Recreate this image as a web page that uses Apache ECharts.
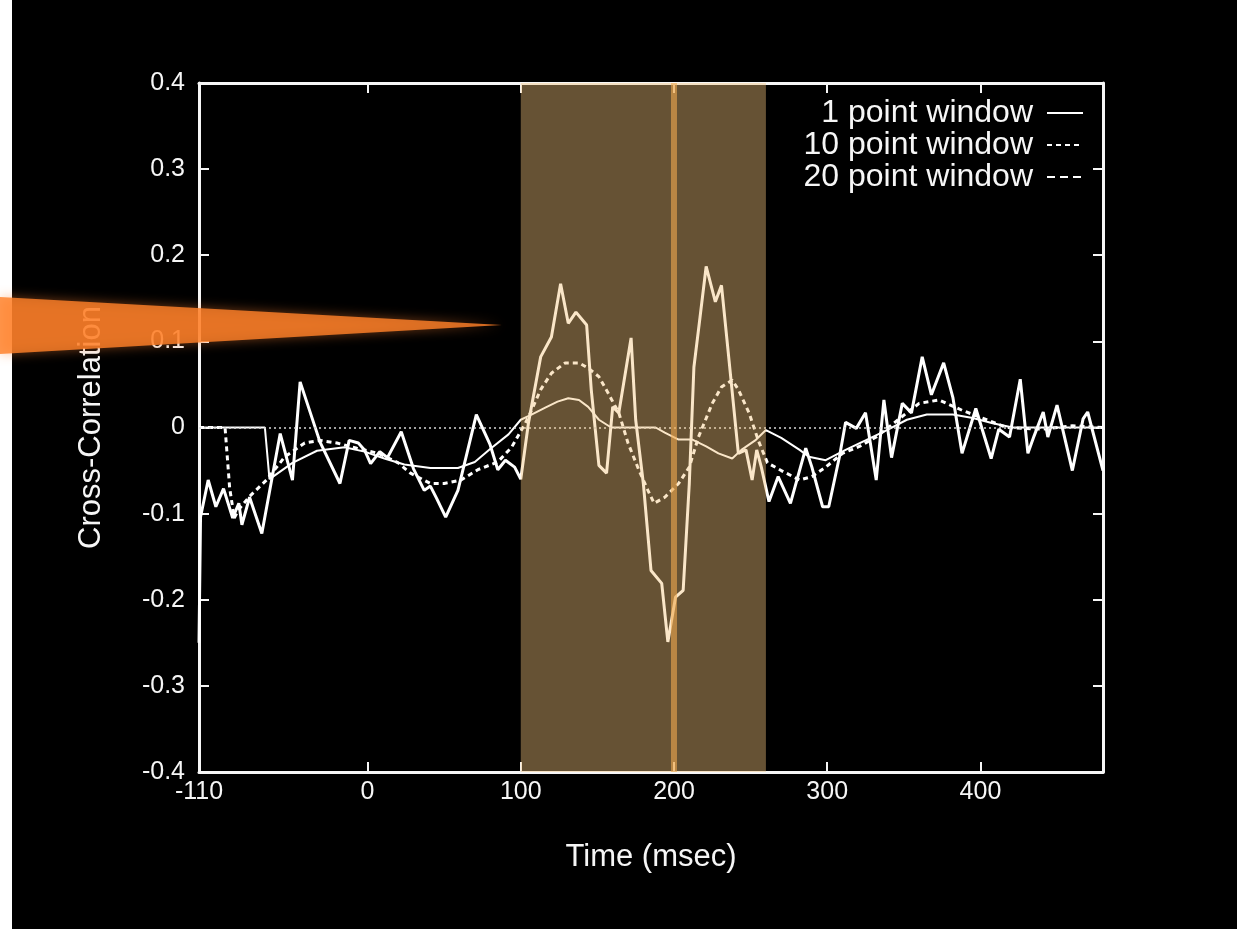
<!DOCTYPE html>
<html>
<head>
<meta charset="utf-8">
<title>Cross-Correlation vs Time</title>
<script src="https://cdn.jsdelivr.net/npm/echarts@6/dist/echarts.min.js"></script>
<style>
  html, body { margin: 0; padding: 0; background: #000; }
  #chart { width: 1237px; height: 929px; }
</style>
</head>
<body>
<div id="chart"></div>
<script>
// Time (msec) / correlation pairs for each smoothing window
const onePoint = [
  [-110,-0.25],[-109,-0.104],[-104,-0.061],[-99,-0.092],[-94,-0.071],[-88,-0.105],[-84,-0.088],
  [-82,-0.113],[-77,-0.081],[-69,-0.123],[-57,-0.007],[-49,-0.061],[-44,0.053],[-31,-0.017],
  [-18,-0.065],[-12,-0.015],[-6,-0.018],[-2,-0.026],[2,-0.042],[8,-0.028],[13,-0.035],[22,-0.005],
  [30,-0.048],[37,-0.073],[41,-0.068],[45,-0.082],[51,-0.104],[59,-0.073],[71,0.015],[80,-0.020],
  [85,-0.049],[90,-0.038],[96,-0.046],[100,-0.060],[105,0.005],[113,0.082],[120,0.105],[126,0.167],
  [131,0.121],[136,0.134],[143,0.119],[146,0.044],[151,-0.044],[156,-0.053],[160,0.024],[164,0.017],
  [172,0.104],[175,0.009],[180,-0.065],[185,-0.166],[192,-0.181],[196,-0.249],[201,-0.197],
  [206,-0.189],[210,-0.065],[213,0.070],[217,0.128],[221,0.187],[227,0.146],[231,0.165],[237,0.059],
  [242,-0.030],[247,-0.026],[251,-0.061],[254,-0.026],[257,-0.046],[262,-0.086],[268,-0.057],
  [276,-0.088],[286,-0.024],[290,-0.046],[297,-0.092],[301,-0.092],[308,-0.034],[312,0.006],
  [319,-0.001],[325,0.017],[332,-0.061],[337,0.032],[342,-0.035],[349,0.028],[355,0.017],[362,0.082],
  [368,0.038],[376,0.075],[382,0.035],[388,-0.030],[397,0.022],[407,-0.036],[412,-0.002],[419,-0.011],
  [426,0.056],[431,-0.030],[435,-0.010],[441,0.018],[444,-0.011],[450,0.026],[460,-0.050],[467,0.010],
  [470,0.018],[480,-0.050]
];

const tenPoint = [
  [-110,0],[-93,0],[-90,-0.07],[-87,-0.105],[-84,-0.095],[-77,-0.080],[-66,-0.061],[-54,-0.034],
  [-41,-0.018],[-31,-0.015],[-20,-0.018],[-7,-0.024],[7,-0.030],[20,-0.041],[28,-0.053],[41,-0.065],
  [50,-0.065],[61,-0.061],[72,-0.049],[85,-0.040],[94,-0.023],[103,0.005],[107,0.020],[113,0.044],
  [120,0.063],[129,0.075],[138,0.075],[144,0.069],[151,0.059],[157,0.040],[164,0.017],[170,-0.018],
  [177,-0.049],[183,-0.073],[187,-0.088],[194,-0.081],[203,-0.065],[210,-0.046],[216,-0.011],
  [225,0.028],[231,0.047],[238,0.055],[242,0.044],[249,0.017],[255,-0.015],[261,-0.041],[270,-0.050],
  [282,-0.061],[290,-0.057],[299,-0.046],[310,-0.030],[321,-0.022],[332,-0.011],[342,0.003],
  [352,0.017],[360,0.028],[373,0.032],[388,0.020],[404,0.009],[417,0.0],[440,-0.002],[460,0.002],
  [480,0.0]
];

const twentyPoint = [
  [-110,0],[-67,0],[-64,-0.060],[-49,-0.041],[-33,-0.027],[-15,-0.023],[-2,-0.028],[11,-0.036],
  [24,-0.043],[41,-0.047],[59,-0.047],[70,-0.040],[80,-0.025],[92,-0.008],[100,0.009],[107,0.015],
  [116,0.023],[124,0.030],[131,0.034],[138,0.032],[144,0.024],[151,0.009],[159,0.0],[172,0.0],
  [188,0.0],[194,-0.006],[203,-0.014],[212,-0.014],[221,-0.022],[229,-0.030],[238,-0.036],
  [244,-0.026],[253,-0.015],[260,-0.003],[270,-0.012],[282,-0.026],[288,-0.034],[299,-0.038],
  [312,-0.026],[325,-0.015],[339,-0.003],[352,0.009],[365,0.015],[382,0.015],[395,0.011],
  [408,0.005],[421,0.0],[450,0.0],[480,0.0]
];

const seriesNames = ['1 point window', '10 point window', '20 point window'];
const timeLabels = [-110, 0, 100, 200, 300, 400];
const timeTicks = [0, 100, 200, 300, 400];
const windowSpan = [100, 260];
const markerTime = 200;

const FONT = '"Liberation Sans", Arial, Helvetica, sans-serif';
const INK = '#f6f6f6';

const chart = echarts.init(document.getElementById('chart'), null, { renderer: 'canvas' });

const axisLine = { show: true, onZero: false, lineStyle: { color: INK, width: 3 } };
const tickStyle = { color: INK, width: 2 };

chart.setOption({
  backgroundColor: '#000',
  animation: false,
  textStyle: { fontFamily: FONT },
  grid: { left: 199, right: 134, top: 83, bottom: 157, containLabel: false },
  legend: {
    data: [
      { name: seriesNames[0] },
      { name: seriesNames[1] },
      { name: seriesNames[2], lineStyle: { type: [8, 5], width: 2 } }
    ],
    orient: 'vertical',
    right: 148,
    top: 92,
    align: 'right',
    itemWidth: 36,
    itemHeight: 14,
    itemGap: 0,
    selectedMode: false,
    itemStyle: { opacity: 0 },
    textStyle: { color: INK, fontSize: 32, fontFamily: FONT, lineHeight: 28, padding: [0, 9, 0, 0] }
  },
  xAxis: [
    {
      type: 'value', position: 'bottom', min: -110, max: 480,
      name: 'Time (msec)', nameLocation: 'middle', nameGap: 70,
      nameTextStyle: { color: INK, fontSize: 31, fontFamily: FONT },
      axisLine: axisLine,
      axisTick: { show: true, inside: true, length: 10, lineStyle: tickStyle, customValues: timeTicks },
      axisLabel: { color: INK, fontSize: 25, margin: 8, fontFamily: FONT, customValues: timeLabels },
      splitLine: { show: false }
    },
    {
      type: 'value', position: 'top', min: -110, max: 480,
      axisLine: axisLine,
      axisTick: { show: true, inside: true, length: 10, lineStyle: tickStyle, customValues: timeTicks },
      axisLabel: { show: false },
      splitLine: { show: false }
    }
  ],
  yAxis: [
    {
      type: 'value', position: 'left', min: -0.4, max: 0.4, interval: 0.1,
      name: 'Cross-Correlation', nameLocation: 'middle', nameGap: 92, nameRotate: 90,
      nameTextStyle: { color: INK, fontSize: 31, fontFamily: FONT },
      axisLine: axisLine,
      axisTick: { show: true, inside: true, length: 10, lineStyle: tickStyle },
      axisLabel: {
        color: INK, fontSize: 25, margin: 14, fontFamily: FONT,
        formatter: v => String(Math.round(v * 10) / 10)
      },
      splitLine: { show: false }
    },
    {
      type: 'value', position: 'right', min: -0.4, max: 0.4, interval: 0.1,
      axisLine: axisLine,
      axisTick: { show: true, inside: true, length: 10, lineStyle: tickStyle },
      axisLabel: { show: false },
      splitLine: { show: false }
    }
  ],
  series: [
    {
      name: seriesNames[0], type: 'line', data: onePoint,
      symbol: 'none', showSymbol: false, z: 4,
      lineStyle: { color: '#ffffff', width: 3 },
      itemStyle: { color: '#ffffff' },
      markLine: {
        silent: true, symbol: 'none', label: { show: false },
        lineStyle: { color: '#d8d8d8', width: 1.5, type: [2, 3] },
        data: [{ yAxis: 0 }]
      }
    },
    {
      name: seriesNames[1], type: 'line', data: tenPoint,
      symbol: 'none', showSymbol: false, z: 3,
      lineStyle: { color: '#ffffff', width: 3, type: [5, 4] },
      itemStyle: { color: '#ffffff' }
    },
    {
      name: seriesNames[2], type: 'line', data: twentyPoint,
      symbol: 'none', showSymbol: false, z: 3,
      lineStyle: { color: '#ffffff', width: 2 },
      itemStyle: { color: '#ffffff' }
    },
    {
      // translucent highlight band with the marker line at 200 ms, laid over the traces
      name: 'window', type: 'custom', z: 10, silent: true,
      data: [windowSpan],
      renderItem: function (params, api) {
        const a = api.coord([api.value(0), 0.4]);
        const b = api.coord([api.value(1), -0.4]);
        const m = api.coord([markerTime, 0]);
        return {
          type: 'group',
          children: [
            { type: 'rect', shape: { x: a[0], y: a[1], width: b[0] - a[0], height: b[1] - a[1] },
              style: { fill: 'rgba(243,195,124,0.42)' } },
            { type: 'rect', shape: { x: m[0] - 3, y: a[1], width: 6, height: b[1] - a[1] },
              style: { fill: 'rgba(240,170,80,0.6)' } }
          ]
        };
      }
    }
  ],
  graphic: [
    { type: 'rect', left: 0, top: 0, z: 90, shape: { width: 12, height: 929 }, style: { fill: '#ffffff' } },
    {
      type: 'polygon', z: 100,
      shape: { points: [[0, 297], [502, 325], [0, 354]] },
      style: { fill: 'rgba(255,128,40,0.82)', shadowBlur: 12, shadowColor: 'rgba(255,130,50,0.55)' }
    }
  ]
});
</script>
</body>
</html>
